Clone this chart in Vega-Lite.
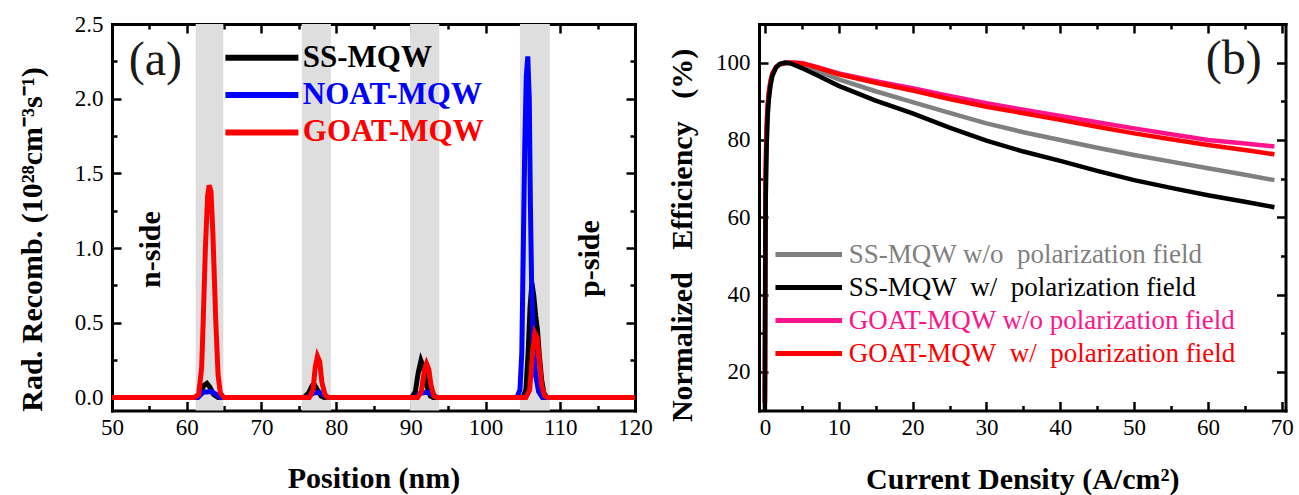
{
  "$schema": "https://vega.github.io/schema/vega-lite/v6.json",
  "padding": {"left": 16, "top": 13, "right": 5, "bottom": 5},
  "bounds": "flush",
  "spacing": 124,
  "datasets": {
    "wells": [
      {"start": 61.2, "end": 64.9},
      {"start": 75.4, "end": 79.3},
      {"start": 89.9, "end": 93.8},
      {"start": 104.6, "end": 108.6}
    ],
    "rad": [
      {"series": "SS-MQW", "pos": 50, "val": 0},
      {"series": "SS-MQW", "pos": 61.2, "val": 0},
      {"series": "SS-MQW", "pos": 61.8, "val": 0.03},
      {"series": "SS-MQW", "pos": 62.3, "val": 0.08},
      {"series": "SS-MQW", "pos": 62.7, "val": 0.094},
      {"series": "SS-MQW", "pos": 63.1, "val": 0.07},
      {"series": "SS-MQW", "pos": 63.6, "val": 0.02},
      {"series": "SS-MQW", "pos": 64.2, "val": 0},
      {"series": "SS-MQW", "pos": 75.7, "val": 0},
      {"series": "SS-MQW", "pos": 76.3, "val": 0.03},
      {"series": "SS-MQW", "pos": 76.8, "val": 0.08},
      {"series": "SS-MQW", "pos": 77.1, "val": 0.085},
      {"series": "SS-MQW", "pos": 77.5, "val": 0.05},
      {"series": "SS-MQW", "pos": 78.0, "val": 0.01},
      {"series": "SS-MQW", "pos": 78.4, "val": 0},
      {"series": "SS-MQW", "pos": 90.1, "val": 0},
      {"series": "SS-MQW", "pos": 90.6, "val": 0.04},
      {"series": "SS-MQW", "pos": 91.0, "val": 0.17},
      {"series": "SS-MQW", "pos": 91.35, "val": 0.247},
      {"series": "SS-MQW", "pos": 91.7, "val": 0.2},
      {"series": "SS-MQW", "pos": 92.1, "val": 0.08},
      {"series": "SS-MQW", "pos": 92.6, "val": 0.01},
      {"series": "SS-MQW", "pos": 93.0, "val": 0},
      {"series": "SS-MQW", "pos": 105.0, "val": 0},
      {"series": "SS-MQW", "pos": 105.4, "val": 0.05},
      {"series": "SS-MQW", "pos": 105.7, "val": 0.3},
      {"series": "SS-MQW", "pos": 105.95, "val": 0.6},
      {"series": "SS-MQW", "pos": 106.2, "val": 0.767},
      {"series": "SS-MQW", "pos": 106.45, "val": 0.68},
      {"series": "SS-MQW", "pos": 106.7, "val": 0.55},
      {"series": "SS-MQW", "pos": 106.95, "val": 0.45},
      {"series": "SS-MQW", "pos": 107.2, "val": 0.28},
      {"series": "SS-MQW", "pos": 107.5, "val": 0.12},
      {"series": "SS-MQW", "pos": 107.8, "val": 0.03},
      {"series": "SS-MQW", "pos": 108.2, "val": 0},
      {"series": "SS-MQW", "pos": 120, "val": 0},
      {"series": "NOAT-MQW", "pos": 50, "val": 0},
      {"series": "NOAT-MQW", "pos": 61.5, "val": 0},
      {"series": "NOAT-MQW", "pos": 62.2, "val": 0.035},
      {"series": "NOAT-MQW", "pos": 63.3, "val": 0.04},
      {"series": "NOAT-MQW", "pos": 64.0, "val": 0.02},
      {"series": "NOAT-MQW", "pos": 64.5, "val": 0},
      {"series": "NOAT-MQW", "pos": 76.2, "val": 0},
      {"series": "NOAT-MQW", "pos": 76.9, "val": 0.03},
      {"series": "NOAT-MQW", "pos": 77.8, "val": 0.035},
      {"series": "NOAT-MQW", "pos": 78.4, "val": 0.015},
      {"series": "NOAT-MQW", "pos": 78.9, "val": 0},
      {"series": "NOAT-MQW", "pos": 90.6, "val": 0},
      {"series": "NOAT-MQW", "pos": 91.3, "val": 0.03},
      {"series": "NOAT-MQW", "pos": 92.3, "val": 0.035},
      {"series": "NOAT-MQW", "pos": 93.0, "val": 0.015},
      {"series": "NOAT-MQW", "pos": 93.5, "val": 0},
      {"series": "NOAT-MQW", "pos": 104.2, "val": 0},
      {"series": "NOAT-MQW", "pos": 104.6, "val": 0.05},
      {"series": "NOAT-MQW", "pos": 104.85, "val": 0.3},
      {"series": "NOAT-MQW", "pos": 105.05, "val": 1.0},
      {"series": "NOAT-MQW", "pos": 105.25, "val": 1.7},
      {"series": "NOAT-MQW", "pos": 105.45, "val": 2.15},
      {"series": "NOAT-MQW", "pos": 105.65, "val": 2.283},
      {"series": "NOAT-MQW", "pos": 105.85, "val": 2.0},
      {"series": "NOAT-MQW", "pos": 106.0, "val": 1.3},
      {"series": "NOAT-MQW", "pos": 106.15, "val": 0.8},
      {"series": "NOAT-MQW", "pos": 106.4, "val": 0.35},
      {"series": "NOAT-MQW", "pos": 106.7, "val": 0.15},
      {"series": "NOAT-MQW", "pos": 107.1, "val": 0.04},
      {"series": "NOAT-MQW", "pos": 107.6, "val": 0},
      {"series": "NOAT-MQW", "pos": 120, "val": 0},
      {"series": "GOAT-MQW", "pos": 50, "val": 0},
      {"series": "GOAT-MQW", "pos": 61.0, "val": 0},
      {"series": "GOAT-MQW", "pos": 61.6, "val": 0.02},
      {"series": "GOAT-MQW", "pos": 62.0, "val": 0.2},
      {"series": "GOAT-MQW", "pos": 62.2, "val": 0.5},
      {"series": "GOAT-MQW", "pos": 62.5, "val": 1.0},
      {"series": "GOAT-MQW", "pos": 62.8, "val": 1.35},
      {"series": "GOAT-MQW", "pos": 63.0, "val": 1.42},
      {"series": "GOAT-MQW", "pos": 63.25, "val": 1.38},
      {"series": "GOAT-MQW", "pos": 63.5, "val": 1.1},
      {"series": "GOAT-MQW", "pos": 63.7, "val": 0.8},
      {"series": "GOAT-MQW", "pos": 63.9, "val": 0.5},
      {"series": "GOAT-MQW", "pos": 64.2, "val": 0.15},
      {"series": "GOAT-MQW", "pos": 64.5, "val": 0.03},
      {"series": "GOAT-MQW", "pos": 65.0, "val": 0},
      {"series": "GOAT-MQW", "pos": 76.4, "val": 0},
      {"series": "GOAT-MQW", "pos": 76.9, "val": 0.05},
      {"series": "GOAT-MQW", "pos": 77.2, "val": 0.2},
      {"series": "GOAT-MQW", "pos": 77.5, "val": 0.276},
      {"series": "GOAT-MQW", "pos": 77.8, "val": 0.24},
      {"series": "GOAT-MQW", "pos": 78.1, "val": 0.1},
      {"series": "GOAT-MQW", "pos": 78.5, "val": 0.02},
      {"series": "GOAT-MQW", "pos": 78.9, "val": 0},
      {"series": "GOAT-MQW", "pos": 90.9, "val": 0},
      {"series": "GOAT-MQW", "pos": 91.4, "val": 0.04},
      {"series": "GOAT-MQW", "pos": 91.8, "val": 0.18},
      {"series": "GOAT-MQW", "pos": 92.1, "val": 0.227},
      {"series": "GOAT-MQW", "pos": 92.4, "val": 0.19},
      {"series": "GOAT-MQW", "pos": 92.7, "val": 0.08},
      {"series": "GOAT-MQW", "pos": 93.1, "val": 0.01},
      {"series": "GOAT-MQW", "pos": 93.5, "val": 0},
      {"series": "GOAT-MQW", "pos": 105.4, "val": 0},
      {"series": "GOAT-MQW", "pos": 105.9, "val": 0.05},
      {"series": "GOAT-MQW", "pos": 106.3, "val": 0.3},
      {"series": "GOAT-MQW", "pos": 106.6, "val": 0.43},
      {"series": "GOAT-MQW", "pos": 106.9, "val": 0.4},
      {"series": "GOAT-MQW", "pos": 107.2, "val": 0.25},
      {"series": "GOAT-MQW", "pos": 107.5, "val": 0.08},
      {"series": "GOAT-MQW", "pos": 107.9, "val": 0.01},
      {"series": "GOAT-MQW", "pos": 108.3, "val": 0},
      {"series": "GOAT-MQW", "pos": 120, "val": 0}
    ],
    "eff": [
      {"series": "SS-MQW w/o\u00a0 polarization field", "J": 0, "eff": 14.5},
      {"series": "SS-MQW w/o\u00a0 polarization field", "J": 0.03, "eff": 35},
      {"series": "SS-MQW w/o\u00a0 polarization field", "J": 0.06, "eff": 52},
      {"series": "SS-MQW w/o\u00a0 polarization field", "J": 0.1, "eff": 64},
      {"series": "SS-MQW w/o\u00a0 polarization field", "J": 0.2, "eff": 77},
      {"series": "SS-MQW w/o\u00a0 polarization field", "J": 0.35, "eff": 86},
      {"series": "SS-MQW w/o\u00a0 polarization field", "J": 0.5, "eff": 90.5},
      {"series": "SS-MQW w/o\u00a0 polarization field", "J": 0.75, "eff": 94.5},
      {"series": "SS-MQW w/o\u00a0 polarization field", "J": 1.0, "eff": 96.8},
      {"series": "SS-MQW w/o\u00a0 polarization field", "J": 1.5, "eff": 98.8},
      {"series": "SS-MQW w/o\u00a0 polarization field", "J": 2.0, "eff": 99.7},
      {"series": "SS-MQW w/o\u00a0 polarization field", "J": 2.7, "eff": 100},
      {"series": "SS-MQW w/o\u00a0 polarization field", "J": 3.5, "eff": 99.9},
      {"series": "SS-MQW w/o\u00a0 polarization field", "J": 5, "eff": 99.2},
      {"series": "SS-MQW w/o\u00a0 polarization field", "J": 7, "eff": 97.9},
      {"series": "SS-MQW w/o\u00a0 polarization field", "J": 10, "eff": 95.7},
      {"series": "SS-MQW w/o\u00a0 polarization field", "J": 15, "eff": 92.6},
      {"series": "SS-MQW w/o\u00a0 polarization field", "J": 20, "eff": 89.8},
      {"series": "SS-MQW w/o\u00a0 polarization field", "J": 25, "eff": 87.0},
      {"series": "SS-MQW w/o\u00a0 polarization field", "J": 30, "eff": 84.3},
      {"series": "SS-MQW w/o\u00a0 polarization field", "J": 35, "eff": 82.0},
      {"series": "SS-MQW w/o\u00a0 polarization field", "J": 40, "eff": 80.0},
      {"series": "SS-MQW w/o\u00a0 polarization field", "J": 45, "eff": 78.0},
      {"series": "SS-MQW w/o\u00a0 polarization field", "J": 50, "eff": 76.1},
      {"series": "SS-MQW w/o\u00a0 polarization field", "J": 55, "eff": 74.4},
      {"series": "SS-MQW w/o\u00a0 polarization field", "J": 60, "eff": 72.7},
      {"series": "SS-MQW w/o\u00a0 polarization field", "J": 65, "eff": 71.0},
      {"series": "SS-MQW w/o\u00a0 polarization field", "J": 69, "eff": 69.6},
      {"series": "GOAT-MQW w/o polarization field", "J": 0, "eff": 12},
      {"series": "GOAT-MQW w/o polarization field", "J": 0.03, "eff": 40},
      {"series": "GOAT-MQW w/o polarization field", "J": 0.06, "eff": 58},
      {"series": "GOAT-MQW w/o polarization field", "J": 0.1, "eff": 70},
      {"series": "GOAT-MQW w/o polarization field", "J": 0.2, "eff": 81},
      {"series": "GOAT-MQW w/o polarization field", "J": 0.35, "eff": 88},
      {"series": "GOAT-MQW w/o polarization field", "J": 0.5, "eff": 91.5},
      {"series": "GOAT-MQW w/o polarization field", "J": 0.75, "eff": 95},
      {"series": "GOAT-MQW w/o polarization field", "J": 1.0, "eff": 97},
      {"series": "GOAT-MQW w/o polarization field", "J": 1.5, "eff": 98.8},
      {"series": "GOAT-MQW w/o polarization field", "J": 2.0, "eff": 99.5},
      {"series": "GOAT-MQW w/o polarization field", "J": 3.0, "eff": 99.95},
      {"series": "GOAT-MQW w/o polarization field", "J": 4.0, "eff": 100},
      {"series": "GOAT-MQW w/o polarization field", "J": 5, "eff": 99.9},
      {"series": "GOAT-MQW w/o polarization field", "J": 7, "eff": 98.9},
      {"series": "GOAT-MQW w/o polarization field", "J": 10, "eff": 97.2},
      {"series": "GOAT-MQW w/o polarization field", "J": 15, "eff": 95.2},
      {"series": "GOAT-MQW w/o polarization field", "J": 20, "eff": 93.4},
      {"series": "GOAT-MQW w/o polarization field", "J": 25, "eff": 91.4},
      {"series": "GOAT-MQW w/o polarization field", "J": 30, "eff": 89.5},
      {"series": "GOAT-MQW w/o polarization field", "J": 35, "eff": 87.8},
      {"series": "GOAT-MQW w/o polarization field", "J": 40, "eff": 86.2},
      {"series": "GOAT-MQW w/o polarization field", "J": 45, "eff": 84.6},
      {"series": "GOAT-MQW w/o polarization field", "J": 50, "eff": 83.0},
      {"series": "GOAT-MQW w/o polarization field", "J": 55, "eff": 81.5},
      {"series": "GOAT-MQW w/o polarization field", "J": 60, "eff": 80.0},
      {"series": "GOAT-MQW w/o polarization field", "J": 65, "eff": 79.1},
      {"series": "GOAT-MQW w/o polarization field", "J": 69, "eff": 78.3},
      {"series": "GOAT-MQW\u00a0 w/\u00a0 polarization field", "J": 0, "eff": 12},
      {"series": "GOAT-MQW\u00a0 w/\u00a0 polarization field", "J": 0.03, "eff": 42},
      {"series": "GOAT-MQW\u00a0 w/\u00a0 polarization field", "J": 0.06, "eff": 60},
      {"series": "GOAT-MQW\u00a0 w/\u00a0 polarization field", "J": 0.1, "eff": 72},
      {"series": "GOAT-MQW\u00a0 w/\u00a0 polarization field", "J": 0.2, "eff": 82},
      {"series": "GOAT-MQW\u00a0 w/\u00a0 polarization field", "J": 0.35, "eff": 88.5},
      {"series": "GOAT-MQW\u00a0 w/\u00a0 polarization field", "J": 0.5, "eff": 92},
      {"series": "GOAT-MQW\u00a0 w/\u00a0 polarization field", "J": 0.75, "eff": 95.3},
      {"series": "GOAT-MQW\u00a0 w/\u00a0 polarization field", "J": 1.0, "eff": 97.2},
      {"series": "GOAT-MQW\u00a0 w/\u00a0 polarization field", "J": 1.5, "eff": 98.9},
      {"series": "GOAT-MQW\u00a0 w/\u00a0 polarization field", "J": 2.0, "eff": 99.6},
      {"series": "GOAT-MQW\u00a0 w/\u00a0 polarization field", "J": 3.0, "eff": 100},
      {"series": "GOAT-MQW\u00a0 w/\u00a0 polarization field", "J": 4.0, "eff": 100},
      {"series": "GOAT-MQW\u00a0 w/\u00a0 polarization field", "J": 5, "eff": 99.8},
      {"series": "GOAT-MQW\u00a0 w/\u00a0 polarization field", "J": 7, "eff": 98.8},
      {"series": "GOAT-MQW\u00a0 w/\u00a0 polarization field", "J": 10, "eff": 97.0},
      {"series": "GOAT-MQW\u00a0 w/\u00a0 polarization field", "J": 15, "eff": 94.8},
      {"series": "GOAT-MQW\u00a0 w/\u00a0 polarization field", "J": 20, "eff": 92.8},
      {"series": "GOAT-MQW\u00a0 w/\u00a0 polarization field", "J": 25, "eff": 90.6},
      {"series": "GOAT-MQW\u00a0 w/\u00a0 polarization field", "J": 30, "eff": 88.6},
      {"series": "GOAT-MQW\u00a0 w/\u00a0 polarization field", "J": 35, "eff": 86.9},
      {"series": "GOAT-MQW\u00a0 w/\u00a0 polarization field", "J": 40, "eff": 85.2},
      {"series": "GOAT-MQW\u00a0 w/\u00a0 polarization field", "J": 45, "eff": 83.4},
      {"series": "GOAT-MQW\u00a0 w/\u00a0 polarization field", "J": 50, "eff": 81.7},
      {"series": "GOAT-MQW\u00a0 w/\u00a0 polarization field", "J": 55, "eff": 80.2},
      {"series": "GOAT-MQW\u00a0 w/\u00a0 polarization field", "J": 60, "eff": 78.7},
      {"series": "GOAT-MQW\u00a0 w/\u00a0 polarization field", "J": 65, "eff": 77.4},
      {"series": "GOAT-MQW\u00a0 w/\u00a0 polarization field", "J": 69, "eff": 76.3},
      {"series": "SS-MQW\u00a0 w/\u00a0 polarization field", "J": 0, "eff": 10},
      {"series": "SS-MQW\u00a0 w/\u00a0 polarization field", "J": 0.03, "eff": 33},
      {"series": "SS-MQW\u00a0 w/\u00a0 polarization field", "J": 0.06, "eff": 50},
      {"series": "SS-MQW\u00a0 w/\u00a0 polarization field", "J": 0.1, "eff": 63},
      {"series": "SS-MQW\u00a0 w/\u00a0 polarization field", "J": 0.2, "eff": 76},
      {"series": "SS-MQW\u00a0 w/\u00a0 polarization field", "J": 0.35, "eff": 85.5},
      {"series": "SS-MQW\u00a0 w/\u00a0 polarization field", "J": 0.5, "eff": 90},
      {"series": "SS-MQW\u00a0 w/\u00a0 polarization field", "J": 0.75, "eff": 94},
      {"series": "SS-MQW\u00a0 w/\u00a0 polarization field", "J": 1.0, "eff": 96.5},
      {"series": "SS-MQW\u00a0 w/\u00a0 polarization field", "J": 1.5, "eff": 98.7},
      {"series": "SS-MQW\u00a0 w/\u00a0 polarization field", "J": 2.0, "eff": 99.6},
      {"series": "SS-MQW\u00a0 w/\u00a0 polarization field", "J": 2.7, "eff": 100},
      {"series": "SS-MQW\u00a0 w/\u00a0 polarization field", "J": 3.5, "eff": 99.8},
      {"series": "SS-MQW\u00a0 w/\u00a0 polarization field", "J": 5, "eff": 98.6},
      {"series": "SS-MQW\u00a0 w/\u00a0 polarization field", "J": 7, "eff": 96.8},
      {"series": "SS-MQW\u00a0 w/\u00a0 polarization field", "J": 10, "eff": 94.0},
      {"series": "SS-MQW\u00a0 w/\u00a0 polarization field", "J": 15, "eff": 90.2},
      {"series": "SS-MQW\u00a0 w/\u00a0 polarization field", "J": 20, "eff": 86.9},
      {"series": "SS-MQW\u00a0 w/\u00a0 polarization field", "J": 25, "eff": 83.2},
      {"series": "SS-MQW\u00a0 w/\u00a0 polarization field", "J": 30, "eff": 79.8},
      {"series": "SS-MQW\u00a0 w/\u00a0 polarization field", "J": 35, "eff": 77.0},
      {"series": "SS-MQW\u00a0 w/\u00a0 polarization field", "J": 40, "eff": 74.6},
      {"series": "SS-MQW\u00a0 w/\u00a0 polarization field", "J": 45, "eff": 72.0},
      {"series": "SS-MQW\u00a0 w/\u00a0 polarization field", "J": 50, "eff": 69.6},
      {"series": "SS-MQW\u00a0 w/\u00a0 polarization field", "J": 55, "eff": 67.6},
      {"series": "SS-MQW\u00a0 w/\u00a0 polarization field", "J": 60, "eff": 65.7},
      {"series": "SS-MQW\u00a0 w/\u00a0 polarization field", "J": 65, "eff": 64.0},
      {"series": "SS-MQW\u00a0 w/\u00a0 polarization field", "J": 69, "eff": 62.6}
    ]
  },
  "hconcat": [
    {
      "width": 523,
      "height": 386.5,
      "layer": [
        {
          "data": {"name": "wells"},
          "mark": {"type": "rect", "color": "#dedede"},
          "encoding": {
            "x": {"field": "start", "type": "quantitative", "scale": {"domain": [50, 120], "nice": false, "zero": false}, "axis": null},
            "x2": {"field": "end"}
          }
        },
        {
          "data": {"name": "rad"},
          "mark": {"type": "line", "strokeWidth": 5, "clip": true},
          "encoding": {
            "x": {
              "field": "pos", "type": "quantitative",
              "scale": {"domain": [50, 120], "nice": false, "zero": false},
              "axis": {
                "orient": "bottom",
                "values": [50, 55, 60, 65, 70, 75, 80, 85, 90, 95, 100, 105, 110, 115, 120],
                "labelExpr": "datum.value % 10 === 0 ? datum.label : ''",
                "labelOverlap": false, "labelFlush": false,
                "tickSize": {"condition": {"test": "datum.value % 10 === 0", "value": -9}, "value": -5},
                "labelPadding": 15,
                "title": "Position (nm)", "titleY": 77, "titleBaseline": "alphabetic"
              }
            },
            "y": {
              "field": "val", "type": "quantitative",
              "scale": {"domain": [-0.087, 2.5], "nice": false, "zero": false},
              "axis": {
                "orient": "left",
                "values": [0, 0.25, 0.5, 0.75, 1, 1.25, 1.5, 1.75, 2, 2.25, 2.5],
                "format": ".1f",
                "labelExpr": "datum.value % 0.5 === 0 ? datum.label : ''",
                "labelOverlap": false, "labelFlush": false,
                "tickSize": {"condition": {"test": "datum.value % 0.5 === 0", "value": -9}, "value": -5},
                "labelPadding": 18,
                "title": "Rad. Recomb. (10²⁸cm⁻³s⁻¹)", "titleX": -80, "titleY": 215, "titleBaseline": "middle"
              }
            },
            "color": {
              "field": "series", "type": "nominal",
              "scale": {"domain": ["SS-MQW", "NOAT-MQW", "GOAT-MQW"], "range": ["#000000", "#0000ff", "#ff0000"]},
              "legend": {
                "orient": "none", "legendX": 134.4, "legendY": 18.3, "direction": "vertical", "title": null,
                "symbolType": "M-4,0H4", "symbolSize": 333, "symbolStrokeWidth": 6,
                "labelFont": "Liberation Serif", "labelFontSize": 31, "labelFontWeight": "bold",
                "labelOffset": 25.4, "rowPadding": 5.3, "padding": 0, "labelLimit": 500,
                "encode": {"labels": {"update": {"fill": {"signal": "['#000000','#0000ff','#ff0000'][datum.index]"}}}}
              }
            }
          }
        },
        {
          "data": {"values": [{}]},
          "mark": {"type": "text", "text": "(a)", "font": "Liberation Serif", "fontSize": 48, "align": "center", "baseline": "middle", "color": "#1a1a1a"},
          "encoding": {
            "x": {"datum": 55.8, "type": "quantitative", "scale": {"domain": [50, 120], "nice": false, "zero": false},
              "axis": {"orient": "top", "values": [50, 55, 60, 65, 70, 75, 80, 85, 90, 95, 100, 105, 110, 115, 120], "labels": false, "title": null,
                "tickSize": {"condition": {"test": "datum.value % 10 === 0", "value": -9}, "value": -5}}},
            "y": {"datum": 2.249, "type": "quantitative",
              "axis": {"orient": "right", "values": [0, 0.25, 0.5, 0.75, 1, 1.25, 1.5, 1.75, 2, 2.25, 2.5], "labels": false, "title": null,
                "tickSize": {"condition": {"test": "datum.value % 0.5 === 0", "value": -9}, "value": -5}}}
          }
        },
        {
          "data": {"values": [{}]},
          "mark": {"type": "text", "text": "n-side", "angle": 270, "font": "Liberation Serif", "fontSize": 30, "fontWeight": "bold", "align": "center", "baseline": "middle", "color": "black"},
          "encoding": {
            "x": {"datum": 55.2, "type": "quantitative", "axis": null},
            "y": {"datum": 0.99, "type": "quantitative", "axis": null}
          }
        },
        {
          "data": {"values": [{}]},
          "mark": {"type": "text", "text": "p-side", "angle": 270, "font": "Liberation Serif", "fontSize": 30, "fontWeight": "bold", "align": "center", "baseline": "middle", "color": "black"},
          "encoding": {
            "x": {"datum": 114.0, "type": "quantitative", "axis": null},
            "y": {"datum": 0.93, "type": "quantitative", "axis": null}
          }
        }
      ],
      "resolve": {"axis": {"x": "independent", "y": "independent"}}
    },
    {
      "width": 526.5,
      "height": 386.5,
      "layer": [
        {
          "data": {"name": "eff"},
          "mark": {"type": "line", "strokeWidth": 4.5, "clip": true},
          "encoding": {
            "x": {
              "field": "J", "type": "quantitative",
              "scale": {"domain": [-0.8, 70.5], "nice": false, "zero": false},
              "axis": {
                "orient": "bottom",
                "values": [0, 5, 10, 15, 20, 25, 30, 35, 40, 45, 50, 55, 60, 65, 70],
                "labelExpr": "datum.value % 10 === 0 ? datum.label : ''",
                "labelOverlap": false, "labelFlush": false,
                "tickSize": {"condition": {"test": "datum.value % 10 === 0", "value": -9}, "value": -5},
                "labelPadding": 15,
                "title": "Current Density (A/cm²)", "titleY": 78, "titleBaseline": "alphabetic"
              }
            },
            "y": {
              "field": "eff", "type": "quantitative",
              "scale": {"domain": [10, 110], "nice": false, "zero": false},
              "axis": {
                "orient": "left",
                "values": [20, 30, 40, 50, 60, 70, 80, 90, 100],
                "labelExpr": "datum.value % 20 === 0 ? datum.label : ''",
                "labelOverlap": false, "labelFlush": false,
                "tickSize": {"condition": {"test": "datum.value % 20 === 0", "value": -9}, "value": -5},
                "labelPadding": 18,
                "title": "Normalized\u00a0\u00a0 Efficiency\u00a0\u00a0 (%)", "titleX": -77, "titleY": 211, "titleBaseline": "middle"
              }
            },
            "color": {
              "field": "series", "type": "nominal",
              "scale": {
                "domain": ["SS-MQW w/o\u00a0 polarization field", "SS-MQW\u00a0 w/\u00a0 polarization field", "GOAT-MQW w/o polarization field", "GOAT-MQW\u00a0 w/\u00a0 polarization field"],
                "range": ["#808080", "#000000", "#ff148c", "#ff0000"]
              },
              "legend": {
                "orient": "none", "legendX": 36.25, "legendY": 217, "direction": "vertical", "title": null,
                "symbolType": "M-4,0H4", "symbolSize": 277, "symbolStrokeWidth": 5,
                "labelFont": "Liberation Serif", "labelFontSize": 27,
                "labelOffset": 26.4, "rowPadding": 5.0, "padding": 0, "labelLimit": 600,
                "encode": {"labels": {"update": {"fill": {"signal": "['#808080','#000000','#ff148c','#ff0000'][datum.index]"}}}}
              }
            }
          }
        },
        {
          "data": {"values": [{}]},
          "mark": {"type": "text", "text": "(b)", "font": "Liberation Serif", "fontSize": 48, "align": "center", "baseline": "middle", "color": "#1a1a1a"},
          "encoding": {
            "x": {"datum": 63.5, "type": "quantitative", "scale": {"domain": [-0.8, 70.5], "nice": false, "zero": false},
              "axis": {"orient": "top", "values": [0, 5, 10, 15, 20, 25, 30, 35, 40, 45, 50, 55, 60, 65, 70], "labels": false, "title": null,
                "tickSize": {"condition": {"test": "datum.value % 10 === 0", "value": -9}, "value": -5}}},
            "y": {"datum": 100.7, "type": "quantitative",
              "axis": {"orient": "right", "values": [20, 30, 40, 50, 60, 70, 80, 90, 100], "labels": false, "title": null,
                "tickSize": {"condition": {"test": "datum.value % 20 === 0", "value": -9}, "value": -5}}}
          }
        }
      ],
      "resolve": {"axis": {"x": "independent", "y": "independent"}}
    }
  ],
  "resolve": {"scale": {"color": "independent"}, "legend": {"color": "independent"}},
  "config": {
    "view": {"stroke": null},
    "axis": {
      "labelFont": "Liberation Serif", "labelFontSize": 23, "labelColor": "black",
      "titleFont": "Liberation Serif", "titleFontSize": 30, "titleFontWeight": "bold", "titleColor": "black",
      "domainColor": "black", "domainWidth": 3, "domainCap": "square",
      "tickColor": "black", "tickWidth": 2.5, "grid": false, "zindex": 1
    }
  }
}
